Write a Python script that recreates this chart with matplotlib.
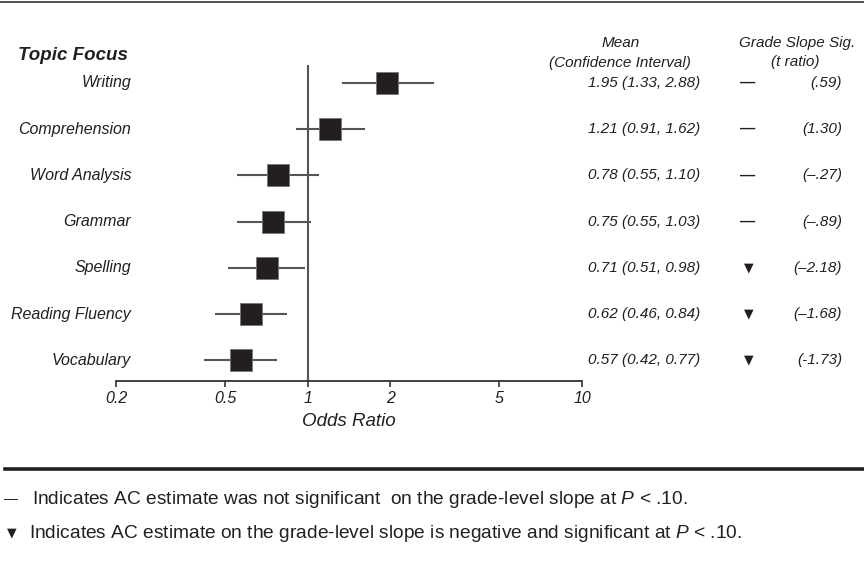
"""Forest plot: odds ratios of AC estimates by topic focus."""
import matplotlib

matplotlib.use("Agg")
import matplotlib.pyplot as plt
import matplotlib.transforms as mtransforms
from matplotlib.lines import Line2D

topics = ["Writing", "Comprehension", "Word Analysis", "Grammar",
          "Spelling", "Reading Fluency", "Vocabulary"]
means = [1.95, 1.21, 0.78, 0.75, 0.71, 0.62, 0.57]
ci_low = [1.33, 0.91, 0.55, 0.55, 0.51, 0.46, 0.42]
ci_high = [2.88, 1.62, 1.10, 1.03, 0.98, 0.84, 0.77]
slope_sig = ["ns", "ns", "ns", "ns", "neg", "neg", "neg"]
t_ratios = ["(.59)", "(1.30)", "(\u2013.27)", "(\u2013.89)",
            "(\u20132.18)", "(\u20131.68)", "(-1.73)"]
xticks = [0.2, 0.5, 1, 2, 5, 10]
xtick_labels = ["0.2", "0.5", "1", "2", "5", "10"]

INK = "#231f20"
GREY = "#555555"
FONT = ["Liberation Sans", "DejaVu Sans"]

plt.rcParams["font.family"] = FONT
plt.rcParams["mathtext.fontset"] = "custom"
plt.rcParams["mathtext.rm"] = "Liberation Sans"
plt.rcParams["mathtext.it"] = "Liberation Sans:italic"

W, H = 864, 566
fig = plt.figure(figsize=(W / 100, H / 100), dpi=100)

# axes: x 0.2 -> px 116, 10 -> px 582; y px 65 .. 381
ax = fig.add_axes([116 / W, 1 - 381 / H, (582 - 116) / W, (381 - 65) / H])
ax.set_xscale("log")
ax.set_xlim(0.2, 10)
row_px = 46.2
ax.set_ylim((381 - 83) / row_px, -(83 - 65) / row_px)

rows = list(range(len(topics)))
for i in rows:
    ax.plot([ci_low[i], ci_high[i]], [i, i], color=GREY, lw=1.5,
            solid_capstyle="butt", zorder=2)
ax.plot(means, rows, "s", ms=16.3, mfc=INK, mec="#777777", mew=0.6,
        ls="none", zorder=3)
ax.axvline(1, color=GREY, lw=1.5, zorder=1)

for s in ["top", "right", "left"]:
    ax.spines[s].set_visible(False)
ax.spines["bottom"].set_color("#333333")
ax.spines["bottom"].set_linewidth(1.3)
ax.set_yticks([])
ax.xaxis.set_minor_locator(matplotlib.ticker.NullLocator())
ax.set_xticks(xticks)
ax.set_xticklabels(xtick_labels, fontsize=11.5, fontstyle="italic", color=INK)
ax.tick_params(axis="x", direction="out", length=4.5, width=1.2,
               color="#333333", pad=3)
ax.set_xlabel("Odds Ratio", fontsize=13.5, fontstyle="italic", color=INK,
              labelpad=5)

# columns: x in figure pixels, y in data rows
tr = mtransforms.blended_transform_factory(fig.transFigure, ax.transData)
for i, name in enumerate(topics):
    fig.text(131 / W, i, name, transform=tr, ha="right", va="center",
             fontsize=11.5, fontstyle="italic", color=INK)
    ci_txt = f"{means[i]:.2f} ({ci_low[i]:.2f}, {ci_high[i]:.2f})"
    fig.text(700 / W, i, ci_txt, transform=tr, ha="right", va="center",
             fontsize=11, fontstyle="italic", color=INK)
    if slope_sig[i] == "ns":
        fig.text(748 / W, i, "\u2014", transform=tr, ha="center",
                 va="center", fontsize=11, fontweight="bold", color=INK)
    else:
        fig.text(749 / W, i, "\u25bc", transform=tr, ha="center",
                 va="center", fontsize=9, color=INK,
                 family=["DejaVu Sans"])
    fig.text(842 / W, i, t_ratios[i], transform=tr, ha="right",
             va="center", fontsize=11, fontstyle="italic", color=INK)

# headers
fig.text(18 / W, 1 - 55 / H, "Topic Focus", ha="left", va="center",
         fontsize=13.5, fontweight="bold", fontstyle="italic", color=INK)
fig.text(621 / W, 1 - 43 / H, "Mean", ha="center", va="center",
         fontsize=11, fontstyle="italic", color=INK)
fig.text(620 / W, 1 - 63 / H, "(Confidence Interval)", ha="center",
         va="center", fontsize=11, fontstyle="italic", color=INK)
fig.text(797 / W, 1 - 43 / H, "Grade Slope Sig.", ha="center",
         va="center", fontsize=11, fontstyle="italic", color=INK)
fig.text(795 / W, 1 - 62 / H, "(t ratio)", ha="center", va="center",
         fontsize=11, fontstyle="italic", color=INK)

# rules
fig.add_artist(Line2D([0, 1], [1 - 2 / H, 1 - 2 / H], color="#333333",
                      lw=1.2, transform=fig.transFigure))
fig.add_artist(Line2D([5 / W, 1], [1 - 469 / H, 1 - 469 / H], color=INK,
                      lw=2.6, transform=fig.transFigure))

# footnotes
fig.text(11 / W, 1 - 499 / H, "\u2014", ha="center", va="center",
         fontsize=10, color=INK)
fig.text(32 / W, 1 - 499 / H,
         r"Indicates AC estimate was not significant  on the grade-level "
         r"slope at $P$ < .10.",
         ha="left", va="center", fontsize=13.8, color=INK)
fig.text(12 / W, 1 - 533 / H, "\u25bc", ha="center", va="center",
         fontsize=9, color=INK, family=["DejaVu Sans"])
fig.text(29 / W, 1 - 533 / H,
         r"Indicates AC estimate on the grade-level slope is negative and "
         r"significant at $P$ < .10.",
         ha="left", va="center", fontsize=13.8, color=INK)

fig.savefig("out.png", dpi=100, facecolor="white")
